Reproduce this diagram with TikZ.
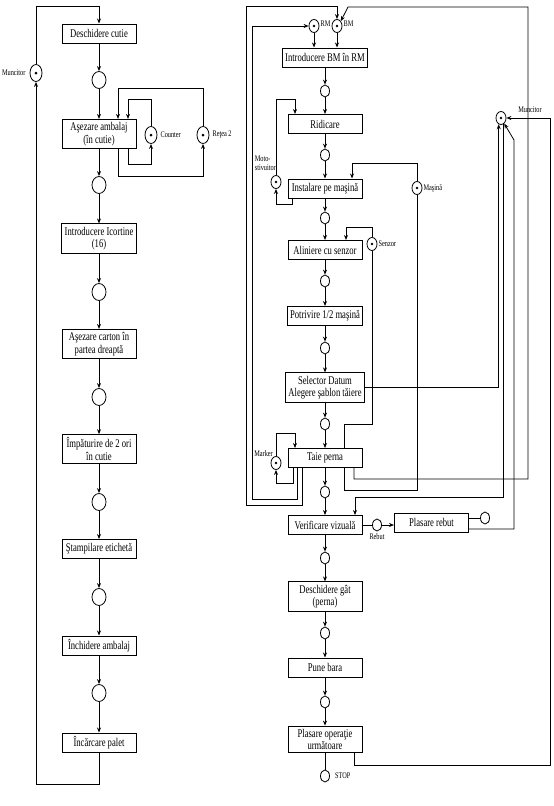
\documentclass[tikz,border=0pt]{standalone}
\usepackage{fontspec}
\setmainfont{Liberation Serif}[FakeStretch=0.73]
\usetikzlibrary{arrows.meta,shapes.geometric}

\tikzset{
  trans/.style={draw,line width=1pt,minimum width=74pt,minimum height=19pt,
    inner sep=3pt,align=center,font=\fontsize{11.8}{12.5}\selectfont},
  place/.style={draw,line width=0.8pt,ellipse,inner sep=0pt,
    minimum width=14pt,minimum height=17pt},
  splace/.style={place,minimum width=9pt,minimum height=12pt},
  tokl/.style={place,minimum width=12pt,minimum height=17pt,
    path picture={\fill (path picture bounding box.center) circle (1.5pt);}},
  tokr/.style={place,minimum width=10pt,minimum height=13pt,
    path picture={\fill (path picture bounding box.center) circle (1.3pt);}},
  lbl/.style={font=\fontsize{8.6}{8.8}\selectfont,inner sep=1pt},
  arc/.style={line width=0.8pt,-{Stealth[length=5pt,width=4pt]}},
  ln/.style={line width=0.8pt}
}

\begin{document}
\begin{tikzpicture}[x=1pt,y=-1pt]
  \useasboundingbox (0,0) rectangle (554,806);

  % left column
  \foreach \i/\y/\txt in {1/33.5/{Deschidere cutie},
      2/134/{Aşezare ambalaj\\(în cutie)},
      3/238.5/{Introducere Icortine\\(16)},
      4/344/{Aşezare carton în\\partea dreaptă},
      5/449/{Împăturire de 2 ori\\în cutie},
      6/549/{Ştampilare etichetă},
      7/645.5/{Închidere ambalaj},
      8/742.5/{Încărcare palet}} {
    \node[trans] (tL\i) at (99,\y) {\txt};
  }
  \foreach \i/\y in {1/80,2/185,3/292,4/397,5/502,6/597,7/693} {
    \node[place] (pL\i) at (99,\y) {};
  }
  \foreach \i [count=\j from 2] in {1,...,7} {
    \draw[arc] (tL\i) -- (pL\i);
    \draw[arc] (pL\i) -- (tL\j);
  }

  \node[tokl] (pMl) at (36,73) {};
  \node[lbl,left=3pt] (lMl) at (pMl.west) {Muncitor};
  \node[tokl] (pCnt) at (151,135) {};
  \node[lbl,right=2pt] (lCnt) at (pCnt.east) {Counter};
  \node[tokl] (pRet) at (203,135) {};
  \node[lbl,right=2pt] (lRet) at (pRet.east) {Reţea 2};

  \draw[arc] (tL8.south) -- (99,784) -| (pMl.south);
  \draw[arc] (pMl.north) |- (99,6) -- (tL1.north);
  \draw[arc] (128,0 |- tL2.south) -- (128,164) -| (pCnt.south);
  \draw[arc] (pCnt.north) |- (128,99) -- (128,0 |- tL2.north);
  \draw[arc] (118,0 |- tL2.south) -- (118,176) -| (pRet.south);
  \draw[arc] (pRet.north) |- (118,88) -- (118,0 |- tL2.north);

  % right column
  \foreach \i/\y/\txt in {1/57.5/{Introducere BM în RM},
      2/124/{Ridicare},
      3/188.5/{Instalare pe maşină},
      4/250/{Aliniere cu senzor},
      5/316/{Potrivire 1/2 maşină},
      6/387.5/{Selector Datum\\Alegere şablon tăiere},
      7/458/{Taie perna},
      8/525/{Verificare vizuală},
      9/596.5/{Deschidere gât\\(perna)},
      10/667.5/{Pune bara},
      11/739.5/{Plasare operaţie\\următoare}} {
    \node[trans] (tR\i) at (325,\y) {\txt};
  }
  \foreach \i/\y in {1/91,2/155,3/218,4/281,5/348,6/424,7/492,8/558,9/633,10/702} {
    \node[splace] (pR\i) at (325,\y) {};
  }
  \foreach \i [count=\j from 2] in {1,...,10} {
    \draw[arc] (tR\i) -- (pR\i);
    \draw[arc] (pR\i) -- (tR\j);
  }
  \node[splace] (pStop) at (325,776) {};
  \node[lbl,right=4pt] (lStop) at (pStop.east) {STOP};
  \draw[ln] (tR11.south) -- (pStop.north);

  \node[tokr] (pRM) at (314,26) {};
  \node[lbl,right] (lRM) at ([yshift=2pt]pRM.east) {RM};
  \node[tokr] (pBM) at (337,26) {};
  \node[lbl,right] (lBM) at ([yshift=2pt]pBM.east) {BM};
  \node[tokr] (pMoto) at (276,182) {};
  \node[lbl,align=left,anchor=south east] (lMoto) at (277,172) {Moto-\\stivuitor};
  \node[tokr] (pMas) at (417,188) {};
  \node[lbl,right] (lMas) at (pMas.east) {Maşină};
  \node[tokr] (pSen) at (372,244) {};
  \node[lbl,right] (lSen) at (pSen.east) {Senzor};
  \node[tokr] (pMrk) at (276,463) {};
  \node[lbl,anchor=east] (lMrk) at (274,454) {Marker};
  \node[tokr] (pMr) at (501,118) {};
  \node[lbl] (lMr) at (530,110) {Muncitor};

  \draw[arc] (pRM.south) -- (314,0 |- tR1.north);
  \draw[arc] (pBM.south) -- (337,0 |- tR1.north);
  \draw[arc] (292,0 |- tR3.south) -- (292,204) -| (pMoto.south);
  \draw[arc] (pMoto.north) |- (295,99) -- (295,0 |- tR2.north);
  \draw[arc] (pMas.north) |- (352,163) -- (352,0 |- tR3.north);
  \draw[arc] (pSen.north) |- (346,227) -- (346,0 |- tR4.north);
  \draw[ln] (pSen.south) |- (344,424) -- (344,0 |- tR7.north);
  \draw[ln] (344,0 |- tR7.south) -- (344,490) -| (pMas.south);
  \draw[arc] (293,0 |- tR7.south) -- (293,483) -| (pMrk.south);
  \draw[arc] (pMrk.north) |- (295,433) -- (295,0 |- tR7.north);
  \draw[arc] (297,0 |- tR7.south) -- (297,499) -- (252,499) |- (pRM.west);
  \draw[arc] (302,0 |- tR7.south) -- (302,505) -- (246,505) |- (337,6) -- (pBM.north);
  \draw[arc] (354,0 |- tR7.south) -- (354,479) -| (528,7) -- (348,7) -- (pBM.north east);
  \draw[arc] (tR6.east) -| (pMr.250);
  \draw[arc] (pMr.290) |- (355,497) -- (355,0 |- tR8.north);

  % rebut
  \node[splace] (pReb) at (377,525) {};
  \node[lbl,below=1pt] (lReb) at (pReb.south) {Rebut};
  \node[trans] (tReb) at (431.5,522.5) {Plasare rebut};
  \node[splace] (pOut) at (485,518) {};
  \draw[ln] (tR8.east) -- (pReb.west);
  \draw[arc] (pReb.east) -- (tReb.west |- pReb.east);
  \draw[ln] (tReb.east |- pOut) -- (pOut.west);
  \draw[arc] (tReb.east |- 0,529) -- (514,529) -- (514,140) -- (pMr.300);
  \draw[arc] (354,0 |- tR11.south) -- (354,765) -| (550,118) -- (pMr.east);
\end{tikzpicture}
\end{document}
